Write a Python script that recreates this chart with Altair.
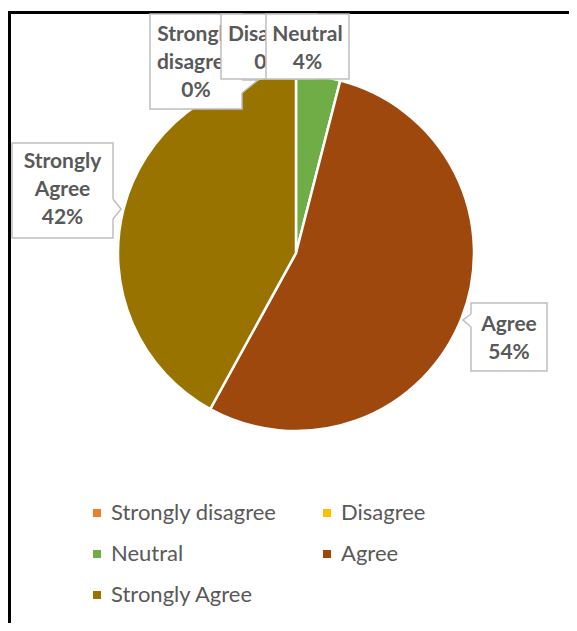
import altair as alt
import pandas as pd

# ---- data ----
categories = ["Strongly disagree", "Disagree", "Neutral", "Agree", "Strongly Agree"]
percents = [0, 0, 4, 54, 42]
colors = ["#ED7D31", "#FFC000", "#70AD47", "#9E480E", "#997300"]

# ---- layout (page pixel coordinates) ----
W, H = 561, 615
OX, OY = 8, 8
pie_cx, pie_cy, pie_r = 296, 253, 178

box_x1 = [150, 221, 266, 471, 12]
box_x2 = [242, 317, 349, 547, 113]
box_y1 = [14, 14, 14, 303, 143]
box_y2 = [109, 79, 79, 371, 238]
text_cx = [196, 269, 307.5, 509, 62.5]
text_y0 = [41, 41, 41, 331, 168]
line_h = 27.8
# pointer: edge point a, tip, edge point b (a,b share x)
pointers = {
    0: [(242, 93), (258, 80), (242, 80)],
    3: [(471, 314), (463, 320), (471, 327)],
    4: [(113, 199), (121, 209), (113, 219)],
}
draw_order = [4, 3, 0, 1, 2]

GRAY = "#BFBFBF"
TXT = "#595959"
FONT = "Lato"

xs = alt.Scale(domain=[OX, OX + W])
ys = alt.Scale(domain=[OY, OY + H], reverse=True)


def X(f):
    return alt.X(f"{f}:Q", scale=xs, axis=None)


def Y(f):
    return alt.Y(f"{f}:Q", scale=ys, axis=None)


layers = []

# frame
frame = pd.DataFrame({"x": [OX, 9.5], "x2": [OX + W, 9.5], "y": [12.5, 11], "y2": [12.5, OY + H]})
layers.append(
    alt.Chart(frame).mark_rule(color="black", strokeWidth=3).encode(
        x=X("x"), x2="x2:Q", y=Y("y"), y2="y2:Q"
    )
)

# pie
pie_df = pd.DataFrame({"cat": categories, "value": percents, "idx": list(range(len(categories)))})
pie = alt.Chart(pie_df).mark_arc(radius=pie_r, stroke="white", strokeWidth=2.5).encode(
    theta=alt.Theta("value:Q", stack=True),
    order=alt.Order("idx:Q"),
    color=alt.Color(
        "cat:N",
        scale=alt.Scale(domain=categories, range=colors),
        legend=alt.Legend(
            title=None, orient="none", legendX=78, legendY=494, columns=2,
            direction="horizontal", symbolType="square", symbolSize=64,
            symbolStrokeWidth=0, labelFont=FONT, labelFontSize=22,
            labelColor=TXT, labelOffset=3, columnPadding=39, rowPadding=19,
            padding=0, labelLimit=400,
        ),
    ),
    x=alt.XDatum(pie_cx, type="quantitative", scale=xs, axis=None),
    y=alt.YDatum(pie_cy, type="quantitative", scale=ys, axis=None),
)
layers.append(pie)

# labels
for i in draw_order:
    box = pd.DataFrame({"x": [box_x1[i]], "x2": [box_x2[i]], "y": [box_y1[i]], "y2": [box_y2[i]]})
    layers.append(
        alt.Chart(box).mark_rect(fill="white", stroke=GRAY, strokeWidth=1.5).encode(
            x=X("x"), x2="x2:Q", y=Y("y"), y2="y2:Q"
        )
    )
    if i in pointers:
        a, t, b = pointers[i]
        area = pd.DataFrame({"x": [a[0], t[0]], "y": [a[1], t[1]], "y2": [b[1], t[1]]})
        layers.append(
            alt.Chart(area).mark_area(color="white", opacity=1).encode(
                x=X("x"), y=Y("y"), y2="y2:Q"
            )
        )
        erase = pd.DataFrame({"x": [a[0]], "y": [a[1]], "y2": [b[1]]})
        layers.append(
            alt.Chart(erase).mark_rule(color="white", strokeWidth=2.5).encode(
                x=X("x"), y=Y("y"), y2="y2:Q"
            )
        )
        pl = pd.DataFrame({"x": [a[0], t[0], b[0]], "y": [a[1], t[1], b[1]], "o": [0, 1, 2]})
        layers.append(
            alt.Chart(pl).mark_line(color=GRAY, strokeWidth=1.5).encode(
                x=X("x"), y=Y("y"), order="o:Q"
            )
        )
    words = categories[i].split(" ")
    lines = words + [f"{percents[i]}%"]
    tdf = pd.DataFrame({
        "x": [text_cx[i]] * len(lines),
        "y": [text_y0[i] + k * line_h for k in range(len(lines))],
        "t": lines,
    })
    layers.append(
        alt.Chart(tdf).mark_text(
            font=FONT, fontSize=21, fontWeight="bold", color=TXT,
            align="center", baseline="alphabetic",
        ).encode(x=X("x"), y=Y("y"), text="t:N")
    )

chart = alt.layer(*layers).properties(width=W, height=H, padding=0, autosize="none").configure_view(stroke=None)

chart.save("out.html", embed_options={"renderer": "svg", "actions": False})
